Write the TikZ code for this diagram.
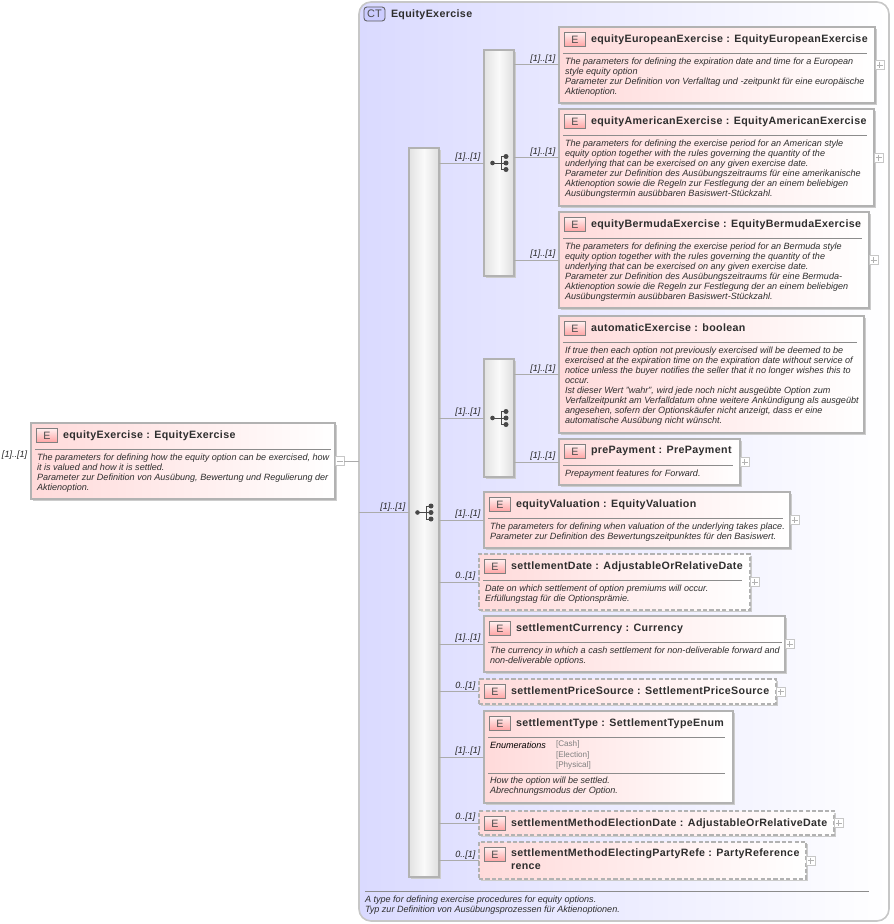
\documentclass[tikz,border=0pt]{standalone}
\usepackage{fontspec}
\setmainfont{Liberation Sans}
\newfontfamily\ttlfont[LetterSpace=3.4]{Liberation Sans}
\usetikzlibrary{shadows,calc}
\definecolor{linegray}{HTML}{ABABAB}
\definecolor{boxgray}{HTML}{B2B2B2}
\definecolor{pinkl}{HTML}{FFDADA}
\definecolor{contl}{HTML}{DADAFF}
\definecolor{contr}{HTML}{FFFFFF}
\definecolor{icon}{HTML}{484848}
\definecolor{seql}{HTML}{E2E2E2}
\definecolor{seqm}{HTML}{FAFAFA}
\definecolor{seqr}{HTML}{DEDEDE}
\definecolor{ctfill}{HTML}{CCCCFF}
\tikzset{
  x=0.75pt,y=-0.75pt,
  every node/.style={inner sep=0pt,outer sep=0pt},
  elbox/.style={rectangle,draw=boxgray,line width=.85pt,left color=pinkl,right color=white,anchor=north west,
     copy shadow={shadow xshift=1.4pt,shadow yshift=-1.4pt,draw=none,fill=black!20}},
  optbox/.style={elbox,dash pattern=on 3.2pt off 1.6pt},
  seqbox/.style={rectangle,draw=boxgray,line width=.85pt,left color=seql,right color=seqr,middle color=seqm,anchor=north west,
     copy shadow={shadow xshift=1.4pt,shadow yshift=-1.4pt,draw=none,fill=black!20}},
  contbox/.style={rectangle,rounded corners=9pt,draw=black!22,line width=1.2pt,left color=contl,right color=contr,anchor=north west},
  badge/.style={rectangle,draw=black!50,line width=.6pt,bottom color=red!36!white,top color=red!6!white,minimum width=15.75pt,minimum height=10.5pt,font=\fontsize{8pt}{9pt}\selectfont,text=black!70},
  ctbadge/.style={rectangle,rounded corners=2.2pt,draw=black!65,line width=.6pt,fill=ctfill,minimum width=15.75pt,minimum height=10.5pt,font=\fontsize{8.2pt}{9pt}\selectfont,text=black!70},
  ttl/.style={anchor=north west,align=left,font=\fontsize{8pt}{9.75pt}\selectfont\bfseries\ttlfont,text=black!82},
  dsc/.style={anchor=north west,align=left,font=\fontsize{6.8pt}{7.5pt}\selectfont\itshape,text=black!82},
  mult/.style={anchor=south east,font=\fontsize{6.8pt}{7.5pt}\selectfont\itshape,text=black!85},
  conn/.style={draw=linegray,line width=.75pt},
  divd/.style={draw=black!45,line width=.6pt},
  expbox/.style={rectangle,draw=black!22,line width=.6pt,fill=white,minimum width=6.75pt,minimum height=6.75pt,anchor=west},
  expsign/.style={draw=black!30,line width=.5pt},
}
% \xelem[box style]{name}{x1}{y1}{x2}{y2}{divider end}{title}{description}
\newcommand{\xelem}[9][elbox]{%
  \pgfmathsetmacro\xw{(#5-#3)*0.75}\pgfmathsetmacro\xh{(#6-#4)*0.75}%
  \node[#1,minimum width=\xw pt,minimum height=\xh pt] (#2) at (#3,#4) {};
  \node[badge] (#2b) at ($(#3,#4)+(16,12.5)$) {E};
  \node[ttl] (#2t) at ($(#3,#4)+(32,7.5)$) {#8};
  \draw[divd] ($(#3,#4)+(4,26)$) -- (#7,#4+26);
  \node[dsc] (#2d) at ($(#3,#4)+(6,30.5)$) {#9};
}
\newcommand{\xexp}[2]{%
  \node[expbox] (#1x) at (#1.east) {};
  \draw[expsign] ($(#1x.center)+(-3,0)$) -- ($(#1x.center)+(3,0)$);
  \if#2p\draw[expsign] ($(#1x.center)+(0,-3)$) -- ($(#1x.center)+(0,3)$);\fi
}
% connector from a sequence box to an element
\newcommand{\xconn}[3]{%
  \draw[conn] (#1.east |- #2.west) -- (#2.west);
  \node[mult] (#2m) at ($(#2.west)+(-3.5,-1.5)$) {#3};
}
\newcommand{\xicon}[1]{%
  \fill[icon] ($(#1.center)+(-6.5,0)$) circle (2.3);
  \draw[icon,line width=.7pt] ($(#1.center)+(-6.5,0)$) -- ($(#1.center)+(2,0)$);
  \draw[icon,line width=.7pt] ($(#1.center)+(2,-6.5)$) -- ($(#1.center)+(2,6.5)$);
  \draw[icon,line width=.7pt] ($(#1.center)+(2,-6.5)$) -- ($(#1.center)+(7,-6.5)$);
  \draw[icon,line width=.7pt] ($(#1.center)+(2,6.5)$) -- ($(#1.center)+(7,6.5)$);
  \draw[icon,line width=.7pt] ($(#1.center)+(2,0)$) -- ($(#1.center)+(7,0)$);
  \fill[icon] ($(#1.center)+(7,-6.5)$) circle (2.5);
  \fill[icon] ($(#1.center)+(7,0)$) circle (2.5);
  \fill[icon] ($(#1.center)+(7,6.5)$) circle (2.5);
}
\begin{document}
\begin{tikzpicture}
\path[use as bounding box,fill=white] (0,0) rectangle (893,924);
% container
\node[contbox,minimum width=397.5pt,minimum height=689.25pt] (cont) at (359,2) {};
\node[ctbadge] (ctb) at (374.5,14) {CT};
\node[ttl] (ctt) at (391,9.5) {EquityExercise};
\draw[divd] (365,891) -- (869,891);
\node[dsc] (ctd) at (365,895.5) {A type for defining exercise procedures for equity options.\\Typ zur Definition von Ausübungsprozessen für Aktienoptionen.};
% root
\xelem{root}{31}{423}{335}{499}{331}{equityExercise : EquityExercise}{The parameters for defining how the equity option can be exercised, how\\it is valued and how it is settled.\\Parameter zur Definition von Ausübung, Bewertung und Regulierung der\\Aktienoption.}
\xexp{root}{m}
\node[mult,anchor=west] (rootm) at (2,455) {[1]..[1]};
\draw[conn] (rootx.east) -- (rootx.east -| cont.west);
% sequences
\node[seqbox,minimum width=22.5pt,minimum height=546.75pt] (big) at (409,148) {};
\node[seqbox,minimum width=22.5pt,minimum height=169.5pt] (seqa) at (484,50) {};
\node[seqbox,minimum width=22.5pt,minimum height=88.5pt] (seqb) at (484,359) {};
\xicon{big}\xicon{seqa}\xicon{seqb}
\draw[conn] (cont.west |- big.west) -- (big.west);
\node[mult] (bigm) at ($(big.west)+(-3.5,-1.5)$) {[1]..[1]};
\xconn{big}{seqa}{[1]..[1]}
\xconn{big}{seqb}{[1]..[1]}
% elements
\xelem{eur}{559}{27}{875}{103}{867}{equityEuropeanExercise : EquityEuropeanExercise}{The parameters for defining the expiration date and time for a European\\style equity option\\Parameter zur Definition von Verfalltag und -zeitpunkt für eine europäische\\Aktienoption.}
\xexp{eur}{p}
\xelem{ame}{559}{109}{874}{206}{867}{equityAmericanExercise : EquityAmericanExercise}{The parameters for defining the exercise period for an American style\\equity option together with the rules governing the quantity of the\\underlying that can be exercised on any given exercise date.\\Parameter zur Definition des Ausübungszeitraums für eine amerikanische\\Aktienoption sowie die Regeln zur Festlegung der an einem beliebigen\\Ausübungstermin ausübbaren Basiswert-Stückzahl.}
\xexp{ame}{p}
\xelem{ber}{559}{212}{869}{308}{862}{equityBermudaExercise : EquityBermudaExercise}{The parameters for defining the exercise period for an Bermuda style\\equity option together with the rules governing the quantity of the\\underlying that can be exercised on any given exercise date.\\Parameter zur Definition des Ausübungszeitraums für eine Bermuda-\\Aktienoption sowie die Regeln zur Festlegung der an einem beliebigen\\Ausübungstermin ausübbaren Basiswert-Stückzahl.}
\xexp{ber}{p}
\xelem{aut}{559}{316}{864}{433}{857}{automaticExercise : boolean}{If true then each option not previously exercised will be deemed to be\\exercised at the expiration time on the expiration date without service of\\notice unless the buyer notifies the seller that it no longer wishes this to\\occur.\\Ist dieser Wert "wahr", wird jede noch nicht ausgeübte Option zum\\Verfallzeitpunkt am Verfalldatum ohne weitere Ankündigung als ausgeübt\\angesehen, sofern der Optionskäufer nicht anzeigt, dass er eine\\automatische Ausübung nicht wünscht.}
\xelem{pre}{559}{439}{740}{485}{733}{prePayment : PrePayment}{Prepayment features for Forward.}
\xexp{pre}{p}
\xelem{val}{484}{492}{790}{548}{783}{equityValuation : EquityValuation}{The parameters for defining when valuation of the underlying takes place.\\Parameter zur Definition des Bewertungszeitpunktes für den Basiswert.}
\xexp{val}{p}
\xelem[optbox]{dat}{479}{554}{750}{610}{742}{settlementDate : AdjustableOrRelativeDate}{Date on which settlement of option premiums will occur.\\Erfüllungstag für die Optionsprämie.}
\xexp{dat}{p}
\xelem{cur}{484}{616}{785}{672}{782}{settlementCurrency : Currency}{The currency in which a cash settlement for non-deliverable forward and\\non-deliverable options.}
\xexp{cur}{p}
% elements without a description
\node[optbox,minimum width=222.75pt,minimum height=18.75pt] (src) at (479,679) {};
\node[badge] (srcb) at ($(479,679)+(16,12.5)$) {E};
\node[ttl] (srct) at ($(479,679)+(32,7.5)$) {settlementPriceSource : SettlementPriceSource};
\xexp{src}{p}
% settlement type
\xelem{typ}{484}{711}{733}{803}{725}{settlementType : SettlementTypeEnum}{\textcolor{black}{Enumerations}}
\node[anchor=north west,align=left,font=\fontsize{6.1pt}{7.9pt}\selectfont,text=black!50] (typv) at (556,741) {[Cash]\\[0pt][Election]\\[0pt][Physical]};
\draw[divd] (488,773) -- (725,773);
\node[dsc] (typd) at (490,777) {How the option will be settled.\\Abrechnungsmodus der Option.};
\node[optbox,minimum width=266.25pt,minimum height=18pt] (mth) at (479,811) {};
\node[badge] (mthb) at ($(479,811)+(16,12.5)$) {E};
\node[ttl] (mtht) at ($(479,811)+(32,7.5)$) {settlementMethodElectionDate : AdjustableOrRelativeDate};
\xexp{mth}{p}
\node[optbox,minimum width=245.25pt,minimum height=27.75pt] (ele) at (479,842) {};
\node[badge] (eleb) at ($(479,842)+(16,12.5)$) {E};
\node[ttl] (elet) at ($(479,842)+(32,6.5)$) {settlementMethodElectingPartyRefe : PartyReference\\rence};
\xexp{ele}{p}
% connectors
\xconn{seqa}{eur}{[1]..[1]}
\xconn{seqa}{ame}{[1]..[1]}
\xconn{seqa}{ber}{[1]..[1]}
\xconn{seqb}{aut}{[1]..[1]}
\xconn{seqb}{pre}{[1]..[1]}
\xconn{big}{val}{[1]..[1]}
\xconn{big}{dat}{0..[1]}
\xconn{big}{cur}{[1]..[1]}
\xconn{big}{src}{0..[1]}
\xconn{big}{typ}{[1]..[1]}
\xconn{big}{mth}{0..[1]}
\xconn{big}{ele}{0..[1]}
\end{tikzpicture}
\end{document}
